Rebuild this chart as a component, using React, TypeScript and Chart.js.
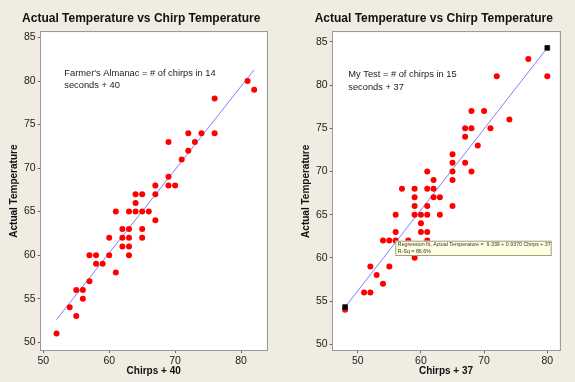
import React, { useEffect, useRef } from "react";
import { Chart, registerables } from "chart.js";

Chart.register(...registerables);

// ---- Data: left panel (Farmer's Almanac) ----
const chirpsLeft = [81, 82, 76, 76, 74, 72, 73, 69, 72, 71, 69, 67, 69, 70, 64, 65, 67, 64, 61, 63, 64, 65, 66, 67, 62, 63, 65, 60, 62, 63, 65, 62, 63, 57, 58, 60, 63, 58, 59, 61, 57, 55, 56, 56, 54, 55, 52];
const tempLeft = [80, 79, 78, 74, 74, 74, 73, 73, 72, 71, 69, 68, 68, 68, 67, 67, 67, 66, 65, 65, 65, 65, 65, 64, 63, 63, 63, 62, 62, 62, 62, 61, 61, 60, 60, 60, 60, 59, 59, 58, 57, 56, 56, 55, 54, 53, 51];
const fitLeftX = [52, 82];
const fitLeftY = [52.6, 81.3];

// ---- Data: right panel (My Test) ----
const chirpsRight = [80, 77, 72, 68, 70, 74, 67, 68, 71, 67, 69, 65, 65, 67, 61, 65, 68, 62, 65, 57, 59, 61, 62, 59, 62, 63, 59, 61, 65, 56, 59, 60, 61, 63, 60, 56, 60, 61, 54, 55, 56, 58, 61, 59, 52, 55, 53, 54, 51, 52, 48];
const tempRight = [81, 83, 81, 77, 77, 76, 75, 75, 75, 74, 73, 72, 71, 71, 70, 70, 70, 69, 69, 68, 68, 68, 68, 67, 67, 67, 66, 66, 66, 65, 65, 65, 65, 65, 64, 63, 63, 63, 62, 62, 62, 62, 62, 60, 59, 59, 58, 57, 56, 56, 54];
const fitRightX = [48, 80];
const fitRightY = [54.3, 84.3];

const yTicks = [50, 55, 60, 65, 70, 75, 80, 85];
const xTicks = [50, 60, 70, 80];

const chartTitle = "Actual Temperature vs Chirp Temperature";
const yTitle = "Actual Temperature";
const xTitleLeft = "Chirps + 40";
const xTitleRight = "Chirps + 37";
const noteLeft = ["Farmer's Almanac = # of chirps in 14", "seconds + 40"];
const noteRight = ["My Test = # of chirps in 15", "seconds + 37"];
const fitLabel = ["Regression fit, Actual Temperature =  9.339 + 0.9370 Chirps + 37", "R-Sq = 86.6%"];

const BG = "#f0ece2";
const FONT = "'Liberation Sans', Arial, sans-serif";

const toPts = (xs: number[], ys: number[]) => xs.map((x, i) => ({ x, y: ys[i] }));

const framePlugin = {
  id: "frame",
  beforeDraw(chart: any) {
    const { ctx, chartArea } = chart;
    const { left, top, right, bottom } = chartArea;
    ctx.save();
    ctx.fillStyle = BG;
    ctx.fillRect(0, 0, chart.width, chart.height);
    ctx.fillStyle = "#ffffff";
    ctx.fillRect(left, top, right - left, bottom - top);
    ctx.restore();
  },
  beforeDatasetsDraw(chart: any, _args: any, opts: any) {
    const { ctx, chartArea } = chart;
    const { left, top, right, bottom } = chartArea;
    ctx.save();
    ctx.strokeStyle = "#9a9a9a";
    ctx.lineWidth = 1;
    ctx.strokeRect(Math.round(left) - 0.5, Math.round(top) - 0.5, Math.round(right - left) + 1, Math.round(bottom - top) + 1);
    ctx.fillStyle = "#111";
    ctx.font = `bold 12px ${FONT}`;
    ctx.textAlign = "center";
    ctx.textBaseline = "alphabetic";
    ctx.fillText(opts.title, opts.titleX, 22);
    ctx.font = `9.3px ${FONT}`;
    ctx.textAlign = "left";
    ctx.fillStyle = "#222";
    opts.note.forEach((t: string, i: number) => {
      ctx.fillText(t, opts.noteX, opts.noteY + i * opts.noteGap);
    });
    ctx.restore();
  },
  afterDraw(chart: any, _args: any, opts: any) {
    if (!opts.box) return;
    const { ctx } = chart;
    const b = opts.box;
    ctx.save();
    ctx.fillStyle = "#ffffe1";
    ctx.fillRect(b.x, b.y, b.w, b.h);
    ctx.strokeStyle = "#a0a080";
    ctx.lineWidth = 1;
    ctx.strokeRect(b.x + 0.5, b.y + 0.5, b.w - 1, b.h - 1);
    ctx.fillStyle = "#333";
    ctx.font = `5.3px ${FONT}`;
    ctx.textAlign = "left";
    ctx.textBaseline = "middle";
    b.lines.forEach((t: string, i: number) => {
      ctx.fillText(t, b.x + 2.5, b.y + 4 + i * 7.3);
    });
    ctx.restore();
  },
};

function makeConfig(p: any) {
  const datasets: any[] = [];
  if (p.markers) {
    datasets.push({
      data: toPts(p.fitX, p.fitY),
      pointStyle: "rect",
      pointRadius: 3.3,
      backgroundColor: "#000",
      borderColor: "#222",
      borderWidth: 1,
      showLine: false,
    });
  }
  datasets.push({
    data: toPts(p.xs, p.ys),
    pointRadius: 3,
    backgroundColor: "#ff0000",
    borderColor: "#ff0000",
    borderWidth: 0,
    showLine: false,
  });
  datasets.push({
    data: toPts(p.fitX, p.fitY),
    showLine: true,
    pointRadius: 0,
    borderColor: "#8080ff",
    borderWidth: 1,
    fill: false,
  });
  return {
    type: "scatter",
    data: { datasets },
    options: {
      responsive: false,
      animation: false,
      events: [],
      layout: { padding: { left: 0, top: p.top, right: p.padRight, bottom: 0 } },
      plugins: {
        legend: { display: false },
        tooltip: { enabled: false },
        frame: {
          title: chartTitle,
          titleX: p.titleX,
          note: p.note,
          noteX: p.noteX,
          noteY: p.noteY,
          noteGap: p.noteGap,
          box: p.box,
        },
      },
      scales: {
        x: {
          type: "linear",
          min: p.xMin,
          max: p.xMax,
          afterFit: (s: any) => {
            s.height = p.xHeight;
          },
          afterBuildTicks: (s: any) => {
            s.ticks = xTicks.map((v) => ({ value: v }));
          },
          border: { display: false },
          grid: { drawOnChartArea: false, drawTicks: true, tickLength: 3, color: "#666" },
          ticks: { color: "#222", font: { family: FONT, size: 10.5 }, padding: 2, maxRotation: 0 },
          title: {
            display: true,
            text: p.xTitle,
            color: "#111",
            font: { family: FONT, size: 10, weight: "bold" },
            padding: { top: 0, bottom: 4.3 },
          },
        },
        y: {
          type: "linear",
          min: p.yMin,
          max: p.yMax,
          afterFit: (s: any) => {
            s.width = p.yWidth;
          },
          afterBuildTicks: (s: any) => {
            s.ticks = yTicks.map((v) => ({ value: v }));
          },
          border: { display: false },
          grid: { drawOnChartArea: false, drawTicks: true, tickLength: 3, color: "#666" },
          ticks: { color: "#222", font: { family: FONT, size: 10.5 }, padding: 2 },
          title: {
            display: true,
            text: yTitle,
            color: "#111",
            font: { family: FONT, size: 10, weight: "bold" },
            padding: { top: p.yTitlePad, bottom: 0 },
          },
        },
      },
    },
    plugins: [framePlugin],
  };
}

export default function App() {
  const leftRef = useRef<HTMLCanvasElement>(null);
  const rightRef = useRef<HTMLCanvasElement>(null);

  useEffect(() => {
    const left = new Chart(
      leftRef.current as HTMLCanvasElement,
      makeConfig({
        xs: chirpsLeft,
        ys: tempLeft,
        fitX: fitLeftX,
        fitY: fitLeftY,
        markers: false,
        xMin: 49.6,
        xMax: 83.9,
        yMin: 49.1,
        yMax: 85.6,
        top: 32.3,
        padRight: 20.3,
        xHeight: 32,
        yWidth: 40.7,
        yTitlePad: 8,
        xTitle: xTitleLeft,
        titleX: 141.2,
        note: noteLeft,
        noteX: 64.3,
        noteY: 75.7,
        noteGap: 12,
        box: null,
      }) as any
    );
    const right = new Chart(
      rightRef.current as HTMLCanvasElement,
      makeConfig({
        xs: chirpsRight,
        ys: tempRight,
        fitX: fitRightX,
        fitY: fitRightY,
        markers: true,
        xMin: 46.04,
        xMax: 81.9,
        yMin: 49.3,
        yMax: 86.1,
        top: 32.3,
        padRight: 15.7,
        xHeight: 31.7,
        yWidth: 45.7,
        yTitlePad: 13.7,
        xTitle: xTitleRight,
        titleX: 146.8,
        note: noteRight,
        noteX: 61.3,
        noteY: 76.6,
        noteGap: 13.2,
        box: { x: 108.3, y: 240.7, w: 156.4, h: 15.3, lines: fitLabel },
      }) as any
    );
    return () => {
      left.destroy();
      right.destroy();
    };
  }, []);

  return (
    <div style={{ position: "absolute", left: 0, top: 0, width: 575, height: 382, background: BG, overflow: "hidden" }}>
      <canvas ref={leftRef} width={287} height={382} style={{ position: "absolute", left: 0, top: 0 }} />
      <canvas ref={rightRef} width={288} height={382} style={{ position: "absolute", left: 287, top: 0 }} />
    </div>
  );
}
